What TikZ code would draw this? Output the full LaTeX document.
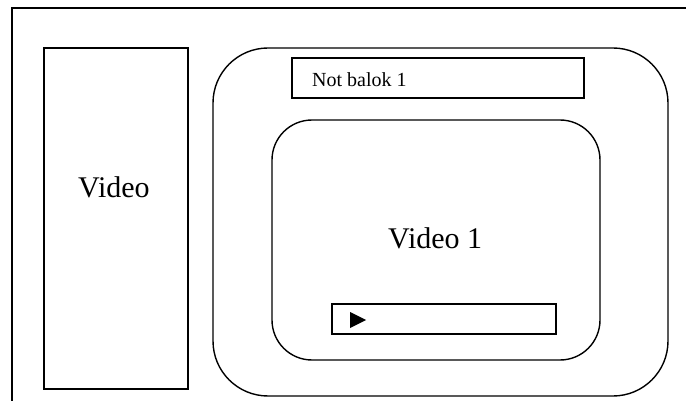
\documentclass[tikz,border=0pt]{standalone}
\usepackage{fontspec}
\setmainfont{Liberation Serif}
\tikzset{
  panel/.style={draw, line width=1.4pt, inner sep=0pt, outer sep=0pt},
  label/.style={inner sep=0pt, anchor=base west},
}
\begin{document}
\begin{tikzpicture}[x=1pt, y=-1pt]
  \useasboundingbox (0,0) rectangle (686,401);
  % page frame: left and top edges
  \draw[line width=1.4pt] (12,401) |- (686,8);
  % left video column
  \node[panel, minimum width=144pt, minimum height=341pt] (vid) at (116,218.5) {};
  \node[label, font=\fontsize{30}{36}\selectfont] (vidtxt) at (78,198) {Video};
  % outer rounded panel
  \node[panel, rounded corners=55pt, minimum width=455pt, minimum height=348pt] (outer) at (440.5,222) {};
  % title bar
  \node[panel, minimum width=292pt, minimum height=40pt] (title) at (438,78) {};
  \node[label, font=\fontsize{20}{24}\selectfont] (titletxt) at (312,87) {Not balok 1};
  % video player area
  \node[panel, rounded corners=40pt, minimum width=328pt, minimum height=240pt] (player) at (436,240) {};
  \node[label, font=\fontsize{30}{36}\selectfont] (playertxt) at (388,248) {Video 1};
  % control bar with play button
  \node[panel, minimum width=224pt, minimum height=30pt] (bar) at (444,319) {};
  \fill (350,312) -- (366,320) -- (350,328) -- cycle;
\end{tikzpicture}
\end{document}
